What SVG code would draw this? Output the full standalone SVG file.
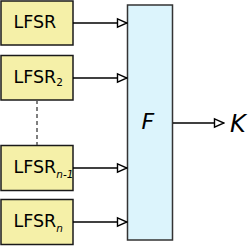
<svg xmlns="http://www.w3.org/2000/svg" width="250" height="246" viewBox="0 0 250 246">
<style>
.lfsr{fill:#f5f0a8;stroke:#1a1a1a;stroke-width:1.5}
.t{font-family:"DejaVu Sans",sans-serif;font-size:17.5px;fill:#000}
.s{font-size:10.5px}
.i{font-style:italic}
.big{font-size:24px}
.c{stroke:#000;stroke-width:1.5;fill:none}
</style>
<defs>
<marker id="ah" viewBox="0 0 12 12" refX="11" refY="6" markerWidth="12" markerHeight="12" markerUnits="userSpaceOnUse" orient="auto">
<path d="M1.5,1.8 L11,6 L1.5,10.2 Z" fill="#fff" stroke="#000" stroke-width="1.4"/>
</marker>
</defs>
<g id="lfsr1"><rect class="lfsr" x="1" y="1" width="72" height="44"/><text class="t" x="13.5" y="27.5">LFSR</text></g>
<g id="lfsr2"><rect class="lfsr" x="1" y="55.5" width="72" height="44.5"/><text class="t" x="13.5" y="82.5">LFSR<tspan class="s" dy="3.5">2</tspan></text></g>
<g id="lfsr3"><rect class="lfsr" x="1" y="145.5" width="72" height="45"/><text class="t" x="13.5" y="173">LFSR<tspan class="s i" dy="5">n-1</tspan></text></g>
<g id="lfsr4"><rect class="lfsr" x="1" y="199.5" width="72" height="45"/><text class="t" x="13.5" y="227">LFSR<tspan class="s i" dy="4.5">n</tspan></text></g>
<g id="F"><rect x="127.5" y="5" width="45" height="235" fill="#dcf4fc" stroke="#333" stroke-width="1.5"/><text class="t i" x="141.5" y="128.5" style="font-size:22px">F</text></g>
<g id="K"><text class="t i big" x="230" y="132">K</text></g>
<g id="connectors">
<path class="c" d="M73,23 H127" marker-end="url(#ah)"/>
<path class="c" d="M73,78 H127" marker-end="url(#ah)"/>
<path class="c" d="M73,168 H127" marker-end="url(#ah)"/>
<path class="c" d="M73,222 H127" marker-end="url(#ah)"/>
<path class="c" d="M173,123 H224" marker-end="url(#ah)"/>
<path d="M37,100 V145" stroke="#555" stroke-width="1.5" stroke-dasharray="4,3" fill="none"/>
</g>
</svg>
